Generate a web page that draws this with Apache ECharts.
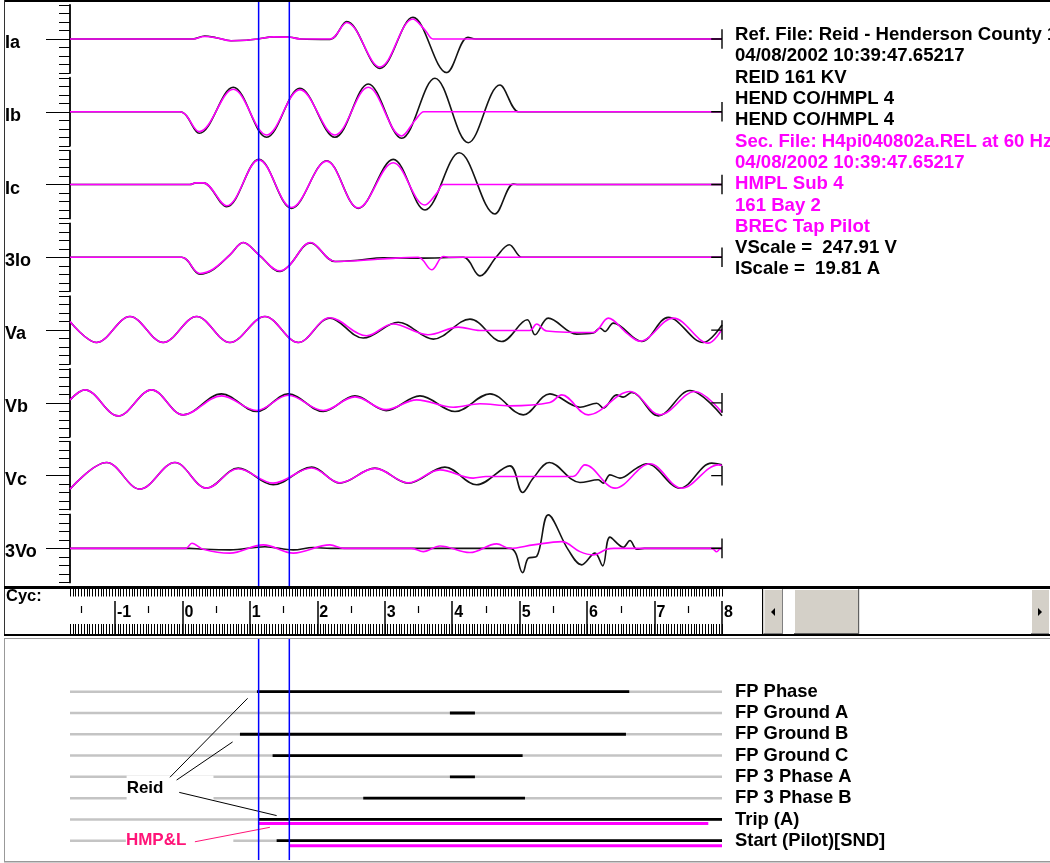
<!DOCTYPE html>
<html><head><meta charset="utf-8">
<script src="https://cdn.jsdelivr.net/npm/echarts@6/dist/echarts.min.js"></script>
<style>html,body{margin:0;padding:0;background:#fff}#c{width:1050px;height:863px}</style>
</head><body><div id="c"></div>
<script>
// ---------------- data (x in cycles, y in scale divisions) ----------------
const channelNames = ['Ia','Ib','Ic','3Io','Va','Vb','Vc','3Vo'];

const refIa = [[-1.667,0],[0.15,0],[0.33,0.35],[0.5,0.15],[0.72,-0.2],[0.95,-0.15],[1.12,0],[1.35,0.25],[1.6,0.2],[1.75,0],[2.19,-0.05],[2.435,2.04],[2.929,-3.45],[3.418,2.55],[3.918,-3.96],[4.233,0.2],[4.35,0],[8,0]];
const secIa = [[-1.667,0],[0.15,0],[0.33,0.3],[0.5,0.15],[0.72,-0.2],[0.95,-0.15],[1.12,0],[1.35,0.25],[1.6,0.2],[1.75,0],[2.19,0],[2.435,1.95],[2.929,-3.3],[3.418,2.35],[3.596,1.06],[3.714,0],[3.8,0],[8,0]];

const refIb = [[-1.667,0],[-0.04,0],[0.249,-2.53],[0.753,2.88],[1.249,-3.0],[1.742,2.76],[2.261,-3.0],[2.755,3.27],[3.25,-3.12],[3.744,3.94],[4.238,-3.64],[4.708,3.15],[4.979,0],[5.05,0],[8,0]];
const secIb = [[-1.667,0],[-0.04,0],[0.249,-2.34],[0.753,2.65],[1.249,-2.73],[1.742,2.6],[2.261,-2.73],[2.755,2.88],[3.25,-2.85],[3.45,-1.0],[3.58,0],[3.65,0],[8,0]];

const refIc = [[-1.667,0],[0.11,0],[0.2,0.2],[0.31,0.2],[0.655,-2.61],[1.134,2.96],[1.619,-2.8],[2.138,2.8],[2.607,-2.8],[3.126,2.96],[3.596,-3.0],[4.105,3.74],[4.634,-3.47],[4.905,0.05],[4.98,0],[8,0]];
const secIc = [[-1.667,0],[0.11,0],[0.2,0.2],[0.31,0.2],[0.655,-2.5],[1.134,2.9],[1.619,-2.7],[2.138,2.75],[2.607,-2.75],[3.126,2.56],[3.596,-2.41],[3.77,-1.04],[3.867,0],[3.95,0],[8,0]];

const ref3Io = [[-1.667,0],[-0.012,0],[0.259,-1.98],[0.452,-1.47],[0.704,0.29],[0.902,1.74],[1.134,0.29],[1.446,-1.67],[1.579,-1.0],[1.9,1.7],[2.261,-0.49],[2.6,-0.35],[2.973,-0.05],[3.5,-0.1],[4.164,0],[4.411,-2.18],[4.659,0.1],[4.846,1.47],[5.03,0],[5.1,0],[8,0]];
const sec3Io = [[-1.667,0],[-0.012,0],[0.259,-1.9],[0.452,-1.4],[0.704,0.29],[0.902,1.74],[1.134,0.29],[1.446,-1.6],[1.579,-1.0],[1.9,1.75],[2.261,-0.49],[2.6,-0.4],[2.973,-0.2],[3.496,0],[3.695,-1.47],[3.867,0.1],[3.95,0],[8,0]];

const refVa = [[-1.667,1.01],[-1.272,-1.46],[-0.778,1.6],[-0.285,-1.46],[0.211,1.6],[0.704,-1.46],[1.223,1.6],[1.717,-1.46],[2.187,1.41],[2.681,-0.94],[3.2,0.92],[3.719,-1.06],[4.263,1.29],[4.733,-1.34],[5.113,1.21],[5.227,-0.55],[5.424,1.41],[5.845,-0.47],[6.091,-0.35],[6.191,0.24],[6.265,-0.16],[6.388,0.82],[6.809,-1.34],[7.203,1.5],[7.722,-1.46],[8,0.6]];
const secVa = [[-1.667,1.01],[-1.272,-1.46],[-0.778,1.6],[-0.285,-1.46],[0.211,1.6],[0.704,-1.46],[1.223,1.6],[1.717,-1.46],[2.187,1.45],[2.731,-0.67],[3.12,0.71],[3.64,-0.55],[4.09,0.35],[4.411,-0.05],[5.15,-0.05],[5.252,0.71],[5.4,-0.1],[6.091,-0.28],[6.314,1.41],[6.587,-0.35],[6.784,-1.3],[7.278,1.41],[7.797,-1.53],[8,0.1]];

const refVb = [[-1.667,0.35],[-1.446,1.53],[-0.952,-1.53],[-0.457,1.53],[0.012,-1.41],[0.581,1.06],[1.1,-1.02],[1.569,1.06],[2.088,-1.02],[2.558,0.82],[3.02,-0.91],[3.522,0.82],[4.041,-1.02],[4.56,1.06],[5.053,-1.41],[5.449,1.06],[5.894,-0.51],[6.142,-0.04],[6.24,-0.62],[6.438,0.94],[6.536,0.67],[6.661,1.21],[7.055,-1.53],[7.525,1.45],[8,-1.53]];
const secVb = [[-1.667,0.35],[-1.446,1.53],[-0.952,-1.53],[-0.457,1.53],[0.012,-1.41],[0.581,0.82],[1.1,-0.9],[1.569,0.9],[2.088,-0.9],[2.558,0.7],[3.02,-0.8],[3.473,0.35],[4.015,-0.51],[4.411,-0.1],[4.85,-0.35],[5.449,0.04],[5.623,0.94],[6.017,-1.41],[6.636,1.33],[7.08,-1.41],[7.599,1.33],[8,-1.14]];

const refVc = [[-1.667,-1.59],[-1.124,1.54],[-0.63,-1.59],[-0.111,1.54],[0.359,-1.47],[0.827,0.88],[1.346,-1.08],[1.916,1.0],[2.335,-0.88],[2.854,0.88],[3.348,-0.88],[3.892,1.0],[4.362,-1.08],[4.856,1.15],[5.044,-1.99],[5.202,-0.29],[5.439,1.54],[5.894,-0.81],[6.165,-0.49],[6.24,-0.88],[6.339,0.09],[6.487,-0.29],[6.735,0.88],[6.883,1.39],[7.377,-1.47],[7.847,1.47],[8,1.27]];
const secVc = [[-1.667,-1.59],[-1.124,1.54],[-0.63,-1.59],[-0.111,1.54],[0.359,-1.47],[0.827,0.8],[1.346,-0.88],[1.916,0.9],[2.335,-0.85],[2.854,0.85],[3.348,-0.85],[3.818,0.68],[4.312,-0.29],[4.5,-0.1],[5.79,-0.1],[5.968,1.27],[6.413,-1.47],[6.932,1.39],[7.402,-1.47],[7.946,1.27],[8,1.2]];

const ref3Vo = [[-1.667,0],[0.1,0],[0.3,-0.1],[0.704,-0.18],[1.223,0.2],[1.643,-0.18],[1.94,0.1],[2.2,0],[4.856,0],[5.044,-2.85],[5.128,-1.15],[5.252,-0.96],[5.424,3.94],[5.721,-0.18],[5.919,-1.94],[6.117,-0.56],[6.231,-2.06],[6.339,1.32],[6.536,0.14],[6.636,0.92],[6.735,-0.1],[6.85,0],[8,0]];
const sec3Vo = [[-1.667,0],[0.05,0],[0.141,0.61],[0.308,-0.1],[0.704,-0.56],[1.198,0.41],[1.643,-0.56],[2.187,0.41],[2.4,0],[3.4,0],[3.571,-0.38],[3.818,0.29],[4.263,-0.49],[4.659,0.53],[4.856,0],[5.202,0.41],[5.623,0.8],[5.894,-0.38],[6.091,-0.76],[6.29,-0.1],[6.4,0],[7.85,0],[7.921,-0.4],[7.98,0],[8,0]];

const refChannels = [refIa, refIb, refIc, ref3Io, refVa, refVb, refVc, ref3Vo];
const secChannels = [secIa, secIb, secIc, sec3Io, secVa, secVb, secVc, sec3Vo];

const cursorCycles = [1.13, 1.585];

const rulerValues = [-1, 0, 1, 2, 3, 4, 5, 6, 7, 8];
const rulerLabels = ['-1', '0', '1', '2', '3', '4', '5', '6', '7', '8'];

const digitalNames = ['FP Phase','FP Ground A','FP Ground B','FP Ground C','FP 3 Phase A','FP 3 Phase B','Trip (A)','Start (Pilot)[SND]'];
const digitalRefOn = [[1.105,6.625],[3.966,4.337],[0.853,6.576],[1.337,5.044],[3.966,4.337],[2.681,5.079],[1.13,8],[1.397,8]];
const digitalSecOn = [null,null,null,null,null,null,[1.13,7.797],[1.584,8]];

const reidPointers = [[[-0.185,4.02],[0.967,0.31]], [[-0.086,4.15],[0.744,2.36]], [[-0.047,4.73],[1.397,5.82]]];
const hmplPointer = [[0.185,7.05],[1.297,6.37]];
const reidLabelAt = [-0.827, 4.52];
const hmplLabelAt = [-0.838, 6.97];

const infoLines = [
  ['Ref. File: Reid - Henderson County 1', 'ref'],
  ['04/08/2002 10:39:47.65217', 'ref'],
  ['REID 161 KV', 'ref'],
  ['HEND CO/HMPL 4', 'ref'],
  ['HEND CO/HMPL 4', 'ref'],
  ['Sec. File: H4pi040802a.REL at 60 Hz', 'sec'],
  ['04/08/2002 10:39:47.65217', 'sec'],
  ['HMPL Sub 4', 'sec'],
  ['161 Bay 2', 'sec'],
  ['BREC Tap Pilot', 'sec'],
  ['VScale =  247.91 V', 'ref'],
  ['IScale =  19.81 A', 'ref']
];

// ---------------- layout / style ----------------
const X_MIN = -5/3, X_MAX = 8;
const L = 70, R = 1050 - 722;
const BASE0 = 39, STEP = 72.77, HALF = 34;
const FONT = 'Liberation Sans, Arial, sans-serif';
const BLACK = '#141414', MAG = '#ff00ff', BLUE = '#0000ff', PINK = '#ff1478';
const END_FROM = 7.84, END_H = 1.15;
const NAME_DROP = -0.47;

const grids = [], xAxes = [], yAxes = [], series = [];
const hiddenX = (g) => ({gridIndex:g, type:'value', min:X_MIN, max:X_MAX, show:false});

channelNames.forEach((name, i) => {
  const g = grids.length;
  grids.push({left:L, right:R, top:BASE0 + i*STEP - HALF, height:2*HALF, outerBoundsMode:'none'});
  xAxes.push(hiddenX(g));
  const yi = yAxes.length;
  yAxes.push({gridIndex:g, type:'value', min:-4, max:4, interval:1, position:'left',
    axisLine:{show:true, onZero:false, lineStyle:{color:'#000', width:1.8}},
    axisTick:{show:true, length:11, lineStyle:{color:'#000', width:1}},
    axisLabel:{show:false}, splitLine:{show:false}});
  yAxes.push({gridIndex:g, type:'value', min:-4, max:4, position:'left',
    axisLine:{show:false, onZero:false},
    axisTick:{show:true, length:24, customValues:[0], lineStyle:{color:'#000', width:1}},
    axisLabel:{show:true, customValues:[NAME_DROP], formatter:() => name, margin:65, align:'left', verticalAlign:'middle',
      color:'#000', fontFamily:FONT, fontWeight:'bold', fontSize:18},
    splitLine:{show:false}});
  const xi = xAxes.length - 1;
  series.push({type:'line', xAxisIndex:xi, yAxisIndex:yi, data:refChannels[i], smooth:0.36, symbol:'none',
    lineStyle:{color:BLACK, width:1.6}, z:3, silent:true});
  series.push({type:'line', xAxisIndex:xi, yAxisIndex:yi, data:secChannels[i], smooth:0.36, symbol:'none',
    lineStyle:{color:MAG, width:1.6}, z:4, silent:true});
  series.push({type:'line', xAxisIndex:xi, yAxisIndex:yi, data:[[END_FROM,0],[X_MAX,0],[X_MAX,END_H],[X_MAX,-END_H]],
    symbol:'none', clip:false, lineStyle:{color:'#000', width:1.4}, z:5, silent:true});
});

// ruler: upper tick row, half-cycle marks and lower rows each in a strip
const minorTicks = [];
for (let k = -40; k <= 192; k++) minorTicks.push(k/24);
const halfTicks = rulerValues.slice(0, -1).map(v => v + 0.5).concat([-1.5]);
const tickStyle = {color:'#000', width:1};
const strip = (top, h) => { const g = grids.length; grids.push({left:L, right:R, top, height:h, outerBoundsMode:'none'});
  yAxes.push({gridIndex:g, type:'value', min:0, max:1, show:false}); return g; };
const tickAxis = (g, len, vals, width) => ({gridIndex:g, type:'value', min:X_MIN, max:X_MAX, position:'bottom',
  axisLine:{show:false, onZero:false}, axisTick:{show:true, inside:true, length:len, customValues:vals, lineStyle:{color:'#000', width:width || 1}},
  axisLabel:{show:false}, splitLine:{show:false}});

const rTop = strip(589, 7.5);
xAxes.push(tickAxis(rTop, 7.5, minorTicks));
const rHalf = strip(606, 7);
xAxes.push(tickAxis(rHalf, 7, halfTicks, 1.2));
const rMain = strip(589, 45);
xAxes.push(tickAxis(rMain, 10, minorTicks));
const majorAxis = tickAxis(rMain, 33, rulerValues, 1.5);
majorAxis.axisLabel = {show:true, inside:true, customValues:rulerValues, formatter:(v) => rulerLabels[rulerValues.indexOf(Math.round(v))],
  margin:21, align:'left', verticalAlign:'middle', padding:[0,0,0,2], color:'#000', fontFamily:FONT, fontWeight:'bold', fontSize:16};
xAxes.push(majorAxis);

// top overlay (cursors)
const topOv = grids.length;
grids.push({left:L, right:R, top:2, height:584, outerBoundsMode:'none'});
xAxes.push(hiddenX(topOv));
yAxes.push({gridIndex:topOv, type:'value', min:0, max:1, show:false});
const topOvX = xAxes.length - 1, topOvY = yAxes.length - 1;

// digital panel
const dig = grids.length;
grids.push({left:L, right:R, top:670.4, height:191.6, outerBoundsMode:'none'});
xAxes.push(hiddenX(dig));
yAxes.push({gridIndex:dig, type:'value', min:-1, max:8, interval:1, inverse:true, position:'right',
  axisLine:{show:false, onZero:false}, axisTick:{show:false}, splitLine:{show:false},
  axisLabel:{show:true, formatter:(v) => digitalNames[v] || '', margin:13, align:'left', verticalAlign:'middle',
    color:'#000', fontFamily:FONT, fontWeight:'bold', fontSize:18.4}});
const digX = xAxes.length - 1, digY = yAxes.length - 1;

// bottom overlay (cursors)
const botOv = grids.length;
grids.push({left:L, right:R, top:638, height:222, outerBoundsMode:'none'});
xAxes.push(hiddenX(botOv));
yAxes.push({gridIndex:botOv, type:'value', min:0, max:1, show:false});
const botOvX = xAxes.length - 1, botOvY = yAxes.length - 1;

// digital series
const SEC_OFFSET = [0,0,0,0,0,0,0.19,0.235];
digitalNames.forEach((n, r) => {
  series.push({type:'line', xAxisIndex:digX, yAxisIndex:digY, data:[[X_MIN,r],[X_MAX,r]], symbol:'none',
    lineStyle:{color:'#c4c4c4', width:2.5}, z:2, silent:true});
  const on = digitalRefOn[r];
  series.push({type:'line', xAxisIndex:digX, yAxisIndex:digY, data:[[on[0],r],[on[1],r]], symbol:'none',
    lineStyle:{color:'#000', width:2.8}, z:3, silent:true});
  const s = digitalSecOn[r];
  if (s) series.push({type:'line', xAxisIndex:digX, yAxisIndex:digY, data:[[s[0],r+SEC_OFFSET[r]],[s[1],r+SEC_OFFSET[r]]], symbol:'none',
    lineStyle:{color:MAG, width:3}, z:4, silent:true});
});
const textLabel = (at, text, color, pad) => ({type:'scatter', xAxisIndex:digX, yAxisIndex:digY, data:[at], symbolSize:0,
  itemStyle:{opacity:1}, z:5, silent:true,
  label:{show:true, position:'right', distance:0, formatter:text, color, opacity:1, fontFamily:FONT, fontWeight:'bold', fontSize:17,
    backgroundColor:'#fff', padding:pad}});
series.push(textLabel(reidLabelAt, 'Reid', '#000', [4,50,4,0]));
series.push(textLabel(hmplLabelAt, 'HMP&L', PINK, [3,47,3,0]));
reidPointers.forEach(p => series.push({type:'line', xAxisIndex:digX, yAxisIndex:digY, data:p, symbol:'none',
  lineStyle:{color:'#000', width:1}, z:6, silent:true}));
series.push({type:'line', xAxisIndex:digX, yAxisIndex:digY, data:hmplPointer, symbol:'none',
  lineStyle:{color:PINK, width:1}, z:6, silent:true});

// cursors
cursorCycles.forEach(c => {
  series.push({type:'line', xAxisIndex:topOvX, yAxisIndex:topOvY, data:[[c,0],[c,1]], symbol:'none',
    lineStyle:{color:BLUE, width:1.5}, z:10, silent:true});
  series.push({type:'line', xAxisIndex:botOvX, yAxisIndex:botOvY, data:[[c,0],[c,1]], symbol:'none',
    lineStyle:{color:BLUE, width:1.5}, z:10, silent:true});
});

// static decorations
const graphic = [];
const rect = (x, y, w, h, fill) => graphic.push({type:'rect', shape:{x, y, width:w, height:h}, style:{fill}, z:100, silent:true});
rect(4, 0, 1046, 2, '#000');
rect(4, 0, 1, 586, '#333');
rect(4, 586, 1046, 3, '#000');
rect(4, 589, 1, 46, '#333');
rect(4, 634, 1046, 2, '#000');
rect(4, 638, 1046, 1, '#999');
rect(4, 638, 1, 224, '#999');
rect(4, 861, 1046, 1.5, '#999');
// scrollbar
rect(762, 589, 1.5, 45, '#000');
rect(763.5, 589, 19.5, 45, '#d4d0c8');
rect(763.5, 589, 19.5, 1, '#fff'); rect(763.5, 589, 1, 45, '#fff');
rect(782, 589, 1, 45, '#808080'); rect(763.5, 633, 19.5, 1, '#808080');
rect(794, 589, 65, 45, '#d4d0c8');
rect(794, 589, 65, 1, '#fff'); rect(794, 589, 1, 45, '#fff');
rect(858, 589, 1.2, 45, '#606060'); rect(794, 633, 65, 1, '#606060');
rect(1031, 589, 18, 45, '#d4d0c8');
rect(1031, 589, 1, 45, '#fff'); rect(1031, 589, 18, 1, '#fff');
rect(1031, 633, 18, 1, '#808080');
graphic.push({type:'polygon', shape:{points:[[775,608],[775,616],[771,612]]}, style:{fill:'#000'}, z:101, silent:true});
graphic.push({type:'polygon', shape:{points:[[1038,608],[1038,616],[1042,612]]}, style:{fill:'#000'}, z:101, silent:true});
graphic.push({type:'text', style:{text:'Cyc:', x:6, y:596, fill:'#000', fontFamily:FONT, fontWeight:'bold', fontSize:16.5, verticalAlign:'middle'}, z:101, silent:true});
infoLines.forEach((ln, i) => graphic.push({type:'text', silent:true, z:101,
  style:{text:ln[0], x:735, y:35 + 21.3*i, fill: ln[1] === 'sec' ? MAG : '#000', fontFamily:FONT, fontWeight:'bold', fontSize:18.6, verticalAlign:'middle'}}));

const chart = echarts.init(document.getElementById('c'));
chart.setOption({
  backgroundColor:'#fff', animation:false, tooltip:{show:false}, legend:{show:false},
  grid:grids, xAxis:xAxes, yAxis:yAxes, series, graphic
});
</script></body></html>
